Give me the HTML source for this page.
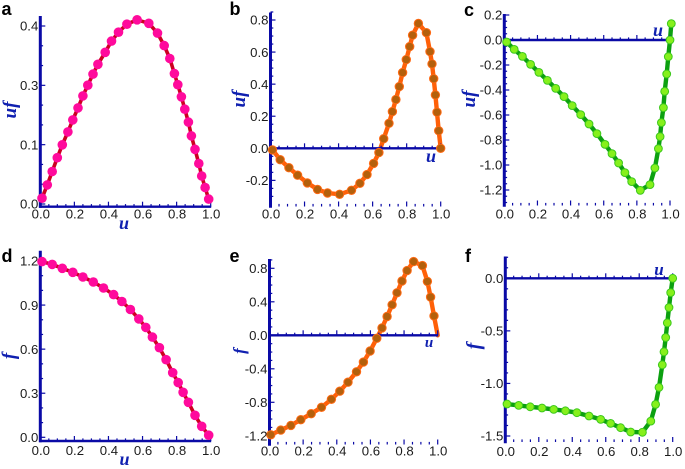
<!DOCTYPE html>
<html lang="en">
<head>
<meta charset="utf-8">
<title>Six panel u-f charts</title>
<style>
html,body{margin:0;padding:0;background:#fff;}
body{width:685px;height:469px;overflow:hidden;}
svg{display:block;filter:blur(0.3px);}
.tick{font-family:"Liberation Sans",sans-serif;font-size:13.2px;fill:#1c1c1c;}
.axt{font-family:"Liberation Serif",serif;font-style:italic;font-weight:bold;fill:#1020b0;}
.letter{font-family:"Liberation Sans",sans-serif;font-weight:bold;font-size:18px;fill:#000;}
</style>
</head>
<body>
<svg id="figure" width="685" height="469" viewBox="0 0 685 469" xmlns="http://www.w3.org/2000/svg"></svg>
<script>
const xTickLabels = ["0.0","0.2","0.4","0.6","0.8","1.0"];
const xTickValues = [0,0.2,0.4,0.6,0.8,1];

const aTickValues = [0,0.1333,0.2667,0.4];
const aTickLabels = ["0.0","0.1","0.3","0.4"];
const aU = [.01,.041,.07,.1,.129,.162,.191,.221,.25,.279,.309,.338,.381,.418,.459,.508,.568,.637,.688,.727,.76,.787,.807,.828,.848,.869,.887,.908,.93,.947,.967,.988];
const aV = [.013,.043,.073,.104,.133,.162,.189,.216,.243,.267,.292,.314,.341,.366,.386,.404,.414,.406,.384,.356,.327,.293,.268,.241,.213,.184,.153,.123,.091,.063,.037,.011];

const bTickValues = [-0.2,0,0.2,0.4,0.6,0.8];
const bTickLabels = ["-0.2","0.0","0.2","0.4","0.6","0.8"];
const bU = [.012,.057,.108,.159,.216,.276,.335,.406,.476,.525,.567,.606,.637,.665,.696,.716,.737,.757,.776,.798,.818,.835,.869,.916,.937,.949,.959,.969,.978,.988,1];
const bV = [-.01,-.071,-.121,-.168,-.216,-.256,-.279,-.287,-.262,-.218,-.164,-.094,-.027,.06,.156,.229,.304,.385,.472,.553,.634,.705,.778,.721,.603,.526,.434,.333,.225,.11,0];

const cTickValues = [-1.2,-1,-0.8,-0.6,-0.4,-0.2,0,0.2];
const cTickLabels = ["-1.2","-1.0","-0.8","-0.6","-0.4","-0.2","0.0","0.2"];
const cU = [.014,.06,.109,.159,.209,.26,.31,.36,.41,.461,.511,.559,.608,.65,.69,.728,.769,.821,.879,.909,.93,.94,.948,.96,.968,.98,.99,1,1.008];
const cV = [-.016,-.075,-.131,-.195,-.259,-.323,-.387,-.453,-.525,-.597,-.672,-.749,-.835,-.909,-.984,-1.061,-1.133,-1.203,-1.157,-1.024,-.869,-.773,-.661,-.541,-.411,-.272,-.133,0,.131];

const dTickValues = [0,0.3,0.6,0.9,1.2];
const dTickLabels = ["0.0","0.3","0.6","0.9","1.2"];
const dU = [.01,.07,.129,.191,.25,.311,.371,.43,.479,.529,.578,.619,.658,.699,.738,.777,.809,.838,.869,.908,.947,.988];
const dV = [1.196,1.177,1.15,1.123,1.091,1.057,1.016,.971,.924,.87,.806,.748,.682,.61,.528,.44,.372,.306,.238,.15,.075,.014];

const eTickValues = [-1.2,-0.8,-0.4,0,0.4,0.8];
const eTickLabels = ["-1.2","-0.8","-0.4","0.0","0.4","0.8"];
const eU = [.008,.067,.127,.186,.248,.309,.368,.418,.467,.517,.558,.598,.638,.669,.699,.729,.758,.788,.818,.857,.909,.939,.958,.978,1];
const eV = [-1.188,-1.132,-1.076,-1.008,-.936,-.86,-.764,-.668,-.56,-.436,-.32,-.188,-.036,.088,.224,.364,.508,.648,.772,.88,.832,.644,.456,.232,0];

const fTickValues = [-1.5,-1,-0.5,0];
const fTickLabels = ["-1.5","-1.0","-0.5","0.0"];
const fU = [.01,.08,.149,.219,.289,.359,.428,.5,.57,.629,.689,.749,.819,.869,.898,.918,.938,.948,.958,.968,.978,.988,1];
const fV = [-1.196,-1.209,-1.222,-1.234,-1.247,-1.26,-1.278,-1.31,-1.342,-1.38,-1.421,-1.462,-1.465,-1.358,-1.199,-1.038,-.823,-.699,-.563,-.424,-.278,-.136,0];

const NS = "http://www.w3.org/2000/svg";
const BLUE = "#0a0aa6";
const fig = document.getElementById("figure");

function mk(parent, tag, attrs, text) {
  const el = document.createElementNS(NS, tag);
  for (const k in attrs) el.setAttribute(k, attrs[k]);
  if (text !== undefined) el.textContent = text;
  parent.appendChild(el);
  return el;
}

function drawPanel(p) {
  const g = mk(fig, "g", {});
  
  

  const sx = u => p.x0 + (p.x1 - p.x0) * u;
  const sy = v => p.yA + (p.yB - p.yA) * (v - p.vA) / (p.vB - p.vA);

  const letter = mk(g, "text", {x: p.lx, y: p.ly, class: "letter"}, p.id);
  
  

  const pts = p.u.map((u, i) => sx(u).toFixed(1) + "," + sy(p.v[i]).toFixed(1)).join(" ");
  const line = mk(g, "polyline", {points: pts, fill: "none", stroke: p.line, "stroke-width": p.lw, "stroke-linejoin": "round", "stroke-linecap": "round"});
  
  

  const n = p.skipLast ? p.u.length - 1 : p.u.length;
  const drawMarkers = () => {
    for (let i = 0; i < n; i++) {
      const c = mk(g, "circle", {cx: sx(p.u[i]).toFixed(1), cy: sy(p.v[i]).toFixed(1), r: p.r, fill: p.fill, stroke: p.edge, "stroke-width": p.ew});
      
      
    }
  };
  if (p.markersOnTop === false) drawMarkers();

  const axisY = p.axisV === null ? p.yBottom : sy(p.axisV);
  const xAxis = mk(g, "line", {x1: p.x0 - 1, x2: p.x1 + 0.5, y1: axisY, y2: axisY, stroke: BLUE, "stroke-width": 2.4});
  
  
  const yAxis = mk(g, "line", {x1: p.x0, x2: p.x0, y1: p.yTop, y2: p.yBottom + 1.2, stroke: BLUE, "stroke-width": 3});
  
  

  const rows = p.axisV === null ? [p.yBottom] : [axisY, p.yBottom];
  for (let i = 1; i <= 20; i++) {
    const major = i % 4 === 0;
    for (const ry of rows) {
      const t = mk(g, "line", {x1: sx(i * 0.05), x2: sx(i * 0.05), y1: ry, y2: ry - (major ? 5 : 2.6), stroke: BLUE, "stroke-width": 1.2});
      
      
    }
  }
  for (let k = Math.ceil(p.yMinorFrom / p.yMinor - 0.001); k * p.yMinor <= p.yMinorTo + 0.001; k++) {
    const v = k * p.yMinor;
    const isMajor = Math.abs(v / p.yMajor - Math.round(v / p.yMajor)) < 0.001;
    const yy = sy(v);
    const t = mk(g, "line", {x1: p.x0, x2: p.x0 + (isMajor ? 5 : 2.8), y1: yy, y2: yy, stroke: BLUE, "stroke-width": 1.2});
    
    
  }

  if (p.markersOnTop !== false) drawMarkers();

  xTickValues.forEach((u, i) => {
    const t = mk(g, "text", {x: sx(u) + 0.5, y: p.xLabelY, "text-anchor": "middle", class: "tick"}, xTickLabels[i]);
    
    
  });
  p.tv.forEach((v, i) => {
    const t = mk(g, "text", {x: p.x0 - 2, y: sy(v) + 4.7, "text-anchor": "end", class: "tick"}, p.tl[i]);
    
    
  });

  const xt = mk(g, "text", {x: p.uX, y: p.uY, "text-anchor": "middle", class: "axt", "font-size": p.uS}, "u");
  
  
  const yt = mk(g, "text", {transform: "translate(" + p.tX + " " + p.tY + ") rotate(-90)", "text-anchor": "middle", class: "axt", "font-size": p.tS}, p.title);
  
  
}

const pink = {line: "#cc0020", lw: 3.6, fill: "#ff0a9c", edge: "#ff0a9c", ew: 0, r: 4.8};
const orange = {line: "#ff6008", lw: 4.4, fill: "#b4600c", edge: "#ff6a14", ew: 1, r: 4.2};
const green = {line: "#0ca010", lw: 4.4, fill: "#86f01c", edge: "#3cc81c", ew: 1, r: 3.9};

drawPanel(Object.assign({id: "a", title: "uf", u: aU, v: aV, tv: aTickValues, tl: aTickLabels, x0: 40.3, x1: 210.7, yA: 204, vA: 0, yB: 26, vB: 0.4, yTop: 16, yBottom: 206.7, axisV: null, yMajor: 0.4 / 3, yMinor: 0.4 / 9, yMinorFrom: 0, yMinorTo: 0.42, xLabelY: 218.5, lx: 1.5, ly: 15, uX: 124, uY: 229, uS: 18, tX: 16, tY: 110, tS: 19}, pink));
drawPanel(Object.assign({id: "b", title: "uf", u: bU, v: bV, tv: bTickValues, tl: bTickLabels, x0: 270.5, x1: 440.7, yA: 148.3, vA: 0, yB: 20, vB: 0.8, yTop: 12.5, yBottom: 206.5, axisV: 0, yMajor: 0.2, yMinor: 0.05, yMinorFrom: -0.3, yMinorTo: 0.85, xLabelY: 218.5, lx: 229.5, ly: 15, uX: 431, uY: 162, uS: 18, tX: 245, tY: 99, tS: 19}, orange));
drawPanel(Object.assign({id: "c", title: "uf", u: cU, v: cV, tv: cTickValues, tl: cTickLabels, x0: 504.3, x1: 670, yA: 40, vA: 0, yB: 15, vB: 0.2, yTop: 14, yBottom: 205.5, axisV: 0, yMajor: 0.2, yMinor: 0.05, yMinorFrom: -1.3, yMinorTo: 0.2, xLabelY: 218.5, lx: 464, ly: 16, uX: 658, uY: 36, uS: 18, tX: 475, tY: 99, tS: 19}, green));
drawPanel(Object.assign({id: "d", title: "f", u: dU, v: dV, tv: dTickValues, tl: dTickLabels, x0: 40.3, x1: 210.7, yA: 437.3, vA: 0, yB: 261, vB: 1.2, yTop: 250.7, yBottom: 441, axisV: null, yMajor: 0.3, yMinor: 0.1, yMinorFrom: 0, yMinorTo: 1.2, xLabelY: 455, lx: 1.5, ly: 262, uX: 124.5, uY: 465, uS: 18, tX: 15, tY: 356, tS: 19}, pink));
drawPanel(Object.assign({id: "e", title: "f", u: eU, v: eV, tv: eTickValues, tl: eTickLabels, skipLast: true, x0: 269.5, x1: 437.7, yA: 335.3, vA: 0, yB: 268.3, vB: 0.8, yTop: 259, yBottom: 444.5, axisV: 0, yMajor: 0.4, yMinor: 0.1, yMinorFrom: -1.2, yMinorTo: 0.9, xLabelY: 455.5, lx: 229.5, ly: 262, uX: 429, uY: 347, uS: 15, tX: 245, tY: 351, tS: 17}, orange));
drawPanel(Object.assign({id: "f", title: "f", u: fU, v: fV, tv: fTickValues, tl: fTickLabels, x0: 505.3, x1: 672.7, yA: 278.3, vA: 0, yB: 436, vB: -1.5, yTop: 256.5, yBottom: 442, axisV: 0, yMajor: 0.5, yMinor: 0.1, yMinorFrom: -1.5, yMinorTo: 0.2, xLabelY: 456, lx: 465, ly: 262, uX: 659, uY: 275, uS: 17, tX: 480, tY: 346, tS: 20}, green));
</script>
</body>
</html>
